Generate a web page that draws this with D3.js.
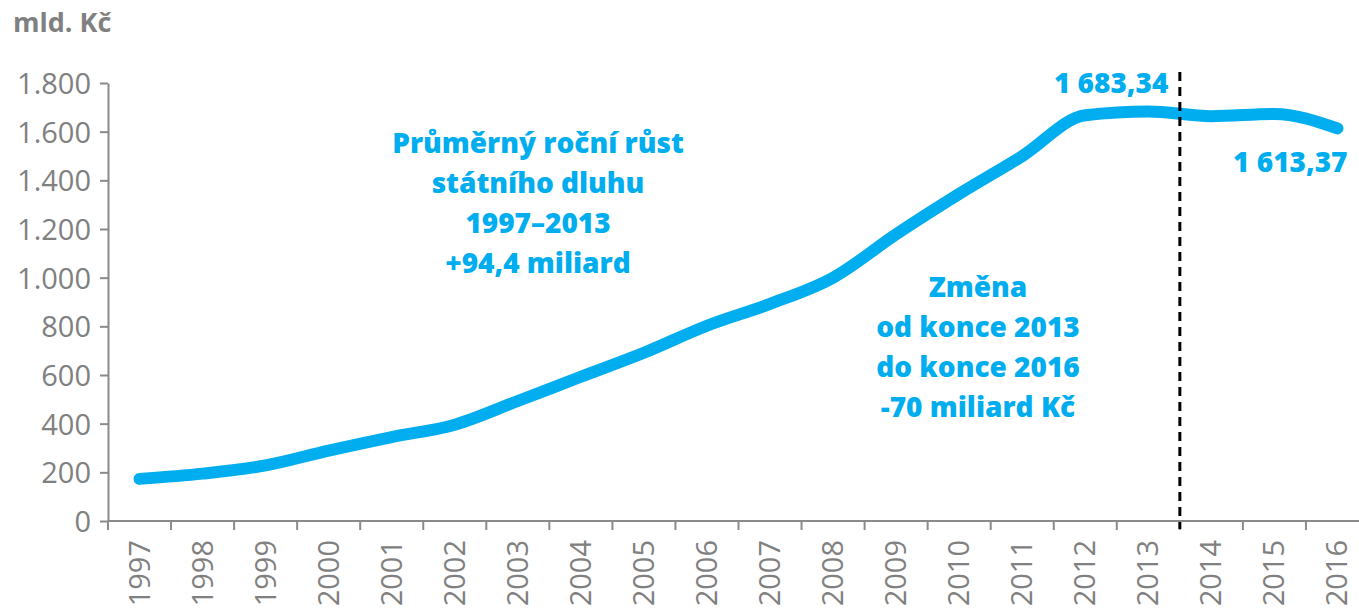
<!DOCTYPE html>
<html lang="cs">
<head>
  <meta charset="UTF-8" />
  <title>Státní dluh</title>
  <script src="https://d3js.org/d3.v7.min.js"></script>
  <style>
    body { margin: 0; background: #fff; }
    .axis path, .axis line { stroke: #8a8a8a; stroke-width: 2px; }
    .axis text { fill: #808080; font-family: "Open Sans", sans-serif; font-size: 29px; }
    .note { fill: #00adee; font-family: "Open Sans", sans-serif; font-weight: 800; font-size: 28px; }
  </style>
</head>
<body>
  <svg id="chart" width="1359" height="614"></svg>
  <script>
    const years = ["1997","1998","1999","2000","2001","2002","2003","2004","2005","2006",
                   "2007","2008","2009","2010","2011","2012","2013","2014","2015","2016"];
    const debt = [173.1, 194.7, 228.4, 289.3, 345.0, 395.9, 493.2, 592.9, 691.2, 802.5,
                  892.3, 999.8, 1178.2, 1344.1, 1499.4, 1667.6, 1683.3, 1663.7, 1673.0, 1613.4];
    const yTicks = [0, 200, 400, 600, 800, 1000, 1200, 1400, 1600, 1800];
    const growthNote = ["Průměrný roční růst", "státního dluhu", "1997–2013", "+94,4 miliard"];
    const changeNote = ["Změna", "od konce 2013", "do konce 2016", "-70 miliard Kč"];
    const peakLabel = "1 683,34";
    const lastLabel = "1 613,37";

    const svg = d3.select("#chart");
    const x = d3.scaleBand().domain(years).range([108, 1369]).padding(0);
    const y = d3.scaleLinear().domain([0, 1800]).range([521, 83]);
    const fmt = d => d3.format(",")(d).replace(/,/g, ".");

    // y axis
    svg.append("g")
      .attr("class", "axis")
      .attr("transform", "translate(108,0)")
      .call(d3.axisLeft(y).tickValues(yTicks).tickFormat(fmt).tickSize(8).tickSizeOuter(0).tickPadding(9))
      .call(g => g.selectAll("text").attr("dy", "0.36em"));

    // x axis: ticks at band edges
    const xg = svg.append("g")
      .attr("class", "axis")
      .attr("transform", "translate(0,521)");
    xg.append("line").attr("x1", 108).attr("x2", 1359).attr("y1", 0).attr("y2", 0);
    xg.selectAll("line.tick")
      .data(years)
      .join("line")
      .attr("class", "tick")
      .attr("x1", d => x(d)).attr("x2", d => x(d))
      .attr("y1", 0).attr("y2", 9);
    xg.selectAll("text")
      .data(years)
      .join("text")
      .attr("transform", d => `translate(${x(d) + x.bandwidth() / 2 + 10},19) rotate(-90)`)
      .attr("text-anchor", "end")
      .text(d => d);

    // unit label
    svg.append("text")
      .attr("x", 13).attr("y", 32)
      .attr("fill", "#808080")
      .style("font-family", "'Open Sans', sans-serif")
      .style("font-weight", 700)
      .style("font-size", "27px")
      .text("mld. Kč");

    // line
    const line = d3.line()
      .x((d, i) => x(years[i]) + x.bandwidth() / 2)
      .y(d => y(d))
      .curve(d3.curveMonotoneX);
    svg.append("path")
      .datum(debt)
      .attr("fill", "none")
      .attr("stroke", "#00adee")
      .attr("stroke-width", 12)
      .attr("stroke-linecap", "round")
      .attr("stroke-linejoin", "round")
      .attr("d", line);

    // divider between 2013 and 2014
    const xDiv = x("2014");
    svg.append("line")
      .attr("x1", xDiv).attr("x2", xDiv)
      .attr("y1", 72).attr("y2", 529)
      .attr("stroke", "#000")
      .attr("stroke-width", 3)
      .attr("stroke-dasharray", "9,6");

    // value labels
    svg.append("text").attr("class", "note")
      .attr("x", x("2013") + x.bandwidth() / 2 + 20)
      .attr("y", 93)
      .attr("text-anchor", "end")
      .text(peakLabel);
    svg.append("text").attr("class", "note")
      .attr("x", x("2016") + x.bandwidth() / 2 + 10)
      .attr("y", 172)
      .attr("text-anchor", "end")
      .text(lastLabel);

    // annotations
    svg.append("text").attr("class", "note")
      .attr("text-anchor", "middle")
      .selectAll("tspan")
      .data(growthNote)
      .join("tspan")
      .attr("x", 538)
      .attr("y", (d, i) => 153 + i * 40)
      .text(d => d);

    svg.append("text").attr("class", "note")
      .attr("text-anchor", "middle")
      .selectAll("tspan")
      .data(changeNote)
      .join("tspan")
      .attr("x", 978)
      .attr("y", (d, i) => 297 + i * 40)
      .text(d => d);
  </script>
</body>
</html>
